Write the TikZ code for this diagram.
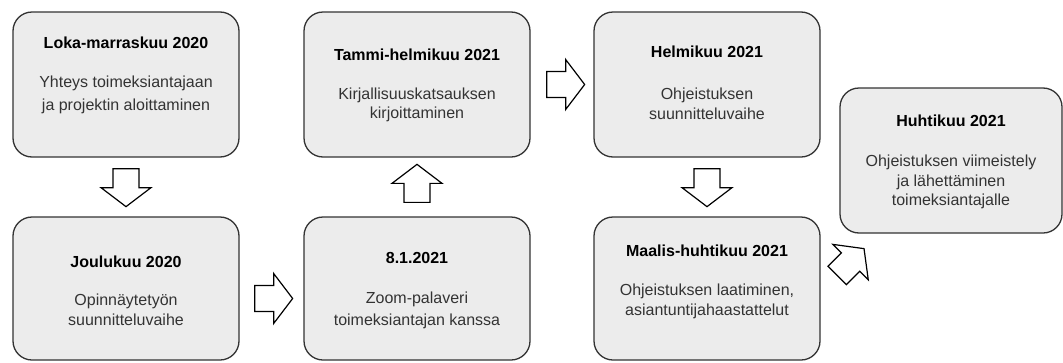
\documentclass[tikz,border=0pt]{standalone}
\usepackage{fontspec}
\setmainfont{Liberation Sans}
\usetikzlibrary{calc}
\definecolor{boxfill}{RGB}{236,236,236}
\definecolor{boxline}{RGB}{51,51,51}
\definecolor{bodytext}{RGB}{51,51,51}
\tikzset{
  stagebox/.style={draw=boxline, fill=boxfill, line width=1.3pt, rounded corners=19pt,
    minimum width=226pt, minimum height=145pt, inner sep=0pt},
  titletext/.style={anchor=base, inner sep=0pt, font=\fontsize{16}{19}\selectfont\bfseries, text=black},
  bodyline/.style={anchor=base, inner sep=0pt, font=\fontsize{16}{19}\selectfont, text=bodytext},
  blockarrow/.pic={
    \draw[draw=black, fill=white, line width=1.2pt, line join=miter]
      (0,-13) -- (19,-13) -- (19,-25) -- (38,0) -- (19,25) -- (19,13) -- (0,13) -- cycle;
  }
}
\begin{document}
\begin{tikzpicture}[x=1pt,y=-1pt]
\useasboundingbox (0,0) rectangle (1063,362);
\fill[white] (0,0) rectangle (1063,362);

% boxes
\node[stagebox] (b1) at (126,84.5) {};
\node[stagebox, minimum height=143pt] (b2) at (126,288.5) {};
\node[stagebox] (b3) at (417,84.5) {};
\node[stagebox, minimum height=143pt] (b4) at (417,288.5) {};
\node[stagebox] (b5) at (707,84.5) {};
\node[stagebox, minimum height=143pt] (b6) at (707,288.5) {};
\node[stagebox, minimum width=222pt] (b7) at (951,160.5) {};

% texts
\node[titletext] (t1) at (126,48) {Loka-marraskuu 2020};
\node[bodyline] (t1a) at (126,87.5) {Yhteys toimeksiantajaan};
\node[bodyline] (t1b) at (126,110.5) {ja projektin aloittaminen};

\node[titletext] (t2) at (126,267) {Joulukuu 2020};
\node[bodyline] (t2a) at (126,305) {Opinnäytetyön};
\node[bodyline] (t2b) at (126,325) {suunnitteluvaihe};

\node[titletext] (t3) at (417,60) {Tammi-helmikuu 2021};
\node[bodyline] (t3a) at (417,99) {Kirjallisuuskatsauksen};
\node[bodyline] (t3b) at (417,118.5) {kirjoittaminen};

\node[titletext] (t4) at (417,263) {8.1.2021};
\node[bodyline] (t4a) at (417,303) {Zoom-palaveri};
\node[bodyline] (t4b) at (417,325) {toimeksiantajan kanssa};

\node[titletext] (t5) at (707,57) {Helmikuu 2021};
\node[bodyline] (t5a) at (707,99) {Ohjeistuksen};
\node[bodyline] (t5b) at (707,119) {suunnitteluvaihe};

\node[titletext] (t6) at (707,256.5) {Maalis-huhtikuu 2021};
\node[bodyline] (t6a) at (707,295.5) {Ohjeistuksen laatiminen,};
\node[bodyline] (t6b) at (707,315) {asiantuntijahaastattelut};

\node[titletext] (t7) at (951,126) {Huhtikuu 2021};
\node[bodyline] (t7a) at (951,166.5) {Ohjeistuksen viimeistely};
\node[bodyline] (t7b) at (951,186) {ja lähettäminen};
\node[bodyline] (t7c) at (951,205.5) {toimeksiantajalle};

% block arrows
\pic[rotate=-90] at ($(b1.south)+(0,11)$) {blockarrow};
\pic at ($(b2.east)+(15,10)$) {blockarrow};
\pic[rotate=90] at ($(b4.north)+(0,-14)$) {blockarrow};
\pic at ($(b3.east)+(16,0)$) {blockarrow};
\pic[rotate=-90] at ($(b5.south)+(0,11)$) {blockarrow};
\pic[rotate=45] at ($(b6.east)+(16.5,-13)$) {blockarrow};
\end{tikzpicture}
\end{document}
